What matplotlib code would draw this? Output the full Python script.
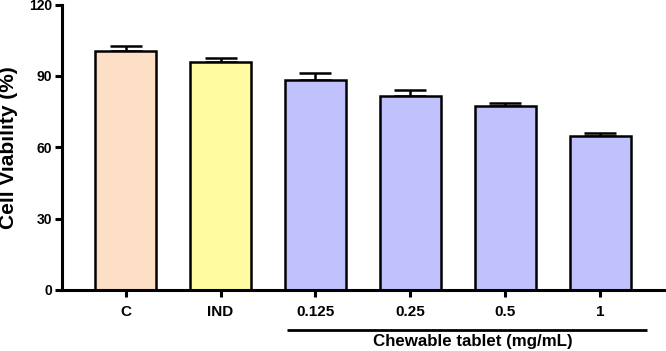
import matplotlib
matplotlib.use("Agg")
import matplotlib.pyplot as plt
import matplotlib.transforms as mtransforms

categories = ["C", "IND", "0.125", "0.25", "0.5", "1"]
values = [100.6, 95.7, 88.1, 81.5, 77.3, 64.6]
errors = [2.1, 1.8, 3.0, 2.6, 1.3, 1.4]
colors = ["#FDDFC5", "#FFFBA0", "#C1C1FE", "#C1C1FE", "#C1C1FE", "#C1C1FE"]
group_label = "Chewable tablet (mg/mL)"

plt.rcParams['font.family'] = ['Liberation Sans', 'DejaVu Sans']
plt.rcParams['font.weight'] = 'bold'

fig = plt.figure(figsize=(6.66, 3.51), dpi=100)
ax = fig.add_axes([0.0931, 0.1738, 0.9054, 0.8132])

x = list(range(len(categories)))
ax.bar(x, values, width=0.65, color=colors, edgecolor='black', linewidth=1.8, zorder=2)
ax.errorbar(x, values, yerr=[[0]*len(errors), errors], fmt='none', ecolor='black',
            elinewidth=1.8, capsize=11.5, capthick=1.8, zorder=1)

ax.set_xlim(-0.669, 5.68)
ax.set_ylim(0, 120)
ax.set_yticks([0, 30, 60, 90, 120])
ax.set_xticks(x)
ax.set_xticklabels(categories, fontsize=11, fontweight='bold')
for lab in ax.get_yticklabels():
    lab.set_fontsize(10)
    lab.set_fontweight('bold')

for s in ['top', 'right']:
    ax.spines[s].set_visible(False)
for s in ['left', 'bottom']:
    ax.spines[s].set_linewidth(2.2)
ax.tick_params(axis='both', width=2.2, length=5, direction='out')
ax.tick_params(axis='y', pad=2)
ax.tick_params(axis='x', pad=6)

fig.text(0.013, (351 - 147.5) / 351, "Cell Viability (%)", rotation=90, ha='center',
         va='center', fontsize=15, fontweight='bold')

trans = mtransforms.blended_transform_factory(ax.transData, ax.transAxes)
yline = (290 - 330) / 285.5
ytext = (290 - 341.7) / 285.5
ax.plot([1.704, 5.489], [yline, yline], color='black', linewidth=2.0,
        transform=trans, clip_on=False, solid_capstyle='butt')
ax.text(3.659, ytext, group_label, transform=trans, ha='center', va='center',
        fontsize=12.2, fontweight='bold')

fig.savefig("out.png", dpi=100)
